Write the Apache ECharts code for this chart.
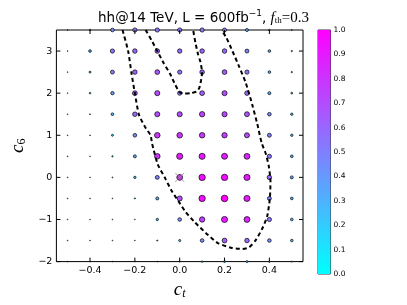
<!DOCTYPE html>
<html><head><meta charset="utf-8">
<script src="https://cdn.jsdelivr.net/npm/echarts@6/dist/echarts.min.js"></script>
<style>html,body{margin:0;padding:0;background:#fff}#c{width:407px;height:305px}</style>
</head><body><div id="c"></div>
<script>
// ---- data ----
const ctValues = [-0.5,-0.4,-0.3,-0.2,-0.1,0,0.1,0.2,0.3,0.4,0.5];
const c6Values = [3.5,3,2.5,2,1.5,1,0.5,0,-0.5,-1,-1.5,-2];
const row35 = [0.03,0.15,0.45,0.55,0.55,0.55,0.55,0.5,0.35,0.15,0.08];
const row30 = [0.04,0.3,0.55,0.6,0.62,0.58,0.6,0.6,0.5,0.3,0.12];
const row25 = [0.04,0.2,0.5,0.6,0.65,0.55,0.62,0.65,0.55,0.3,0.12];
const row20 = [0.03,0.15,0.4,0.65,0.7,0.55,0.65,0.7,0.6,0.35,0.18];
const row15 = [0.02,0.08,0.3,0.6,0.7,0.7,0.75,0.72,0.68,0.45,0.25];
const row10 = [0.02,0.05,0.2,0.45,0.8,0.8,0.78,0.75,0.7,0.5,0.25];
const row05 = [0.01,0.04,0.12,0.35,0.8,0.9,0.9,0.88,0.85,0.55,0.3];
const row00 = [0.01,0.03,0.08,0.25,0.5,0.85,0.95,0.95,0.9,0.6,0.35];
const rowM05 = [0.005,0.02,0.03,0.1,0.35,0.7,0.95,1.0,0.9,0.5,0.3];
const rowM10 = [0.0,0.01,0.02,0.06,0.25,0.45,0.75,0.9,0.85,0.55,0.3];
const rowM15 = [0.0,0.01,0.01,0.03,0.1,0.22,0.45,0.65,0.6,0.45,0.28];
const rowM20 = [0.0,0.0,0.0,0.01,0.04,0.1,0.15,0.2,0.2,0.15,0.1];
const fracRows = [row35,row30,row25,row20,row15,row10,row05,row00,rowM05,rowM10,rowM15,rowM20];
const contourOuter = [[-0.255,3.5],[-0.23,3.0],[-0.215,2.47],[-0.2,2.0],[-0.182,1.49],[-0.155,1.2],[-0.13,1.0],
  [-0.123,0.8],[-0.098,0.31],[-0.064,-0.03],[-0.036,-0.32],[-0.005,-0.57],[0.025,-0.81],[0.068,-1.07],
  [0.127,-1.37],[0.17,-1.56],[0.229,-1.67],[0.28,-1.7],[0.31,-1.66],[0.339,-1.49],[0.368,-1.22],
  [0.39,-0.93],[0.402,-0.51],[0.405,-0.1],[0.397,0.28],[0.383,0.58],[0.366,0.81],[0.346,1.27],
  [0.324,1.72],[0.295,2.24],[0.266,2.62],[0.236,2.99],[0.207,3.33],[0.186,3.5]];
const contourInner = [[-0.152,3.5],[-0.125,3.25],[-0.1,3.0],[-0.07,2.7],[-0.043,2.46],[-0.02,2.2],
  [0.0,2.02],[0.02,1.99],[0.05,2.0],[0.075,2.04],[0.087,2.12],[0.095,2.3],[0.1,2.49],[0.092,2.75],
  [0.082,2.92],[0.07,3.2],[0.06,3.5]];
const smPoint = [[0,0]];
const xTicks = [-0.4,-0.2,0,0.2,0.4];
const yTicks = [-2,-1,0,1,2,3];
const xRange = [-0.55,0.55];
const yRange = [-2,3.5];

const points = [];
c6Values.forEach((y,i)=>ctValues.forEach((x,j)=>points.push([x,y,fracRows[i][j]])));

const fmt = (d)=>v=>(v<0?'\u2212':'')+Math.abs(v).toFixed(d);
const lbl = {fontFamily:'DejaVu Sans',fontSize:9.5,color:'#000'};
const dash = {color:'#000',width:2,type:[4,3]};
const TL = 4;
const tickStyle = {stroke:'#000',lineWidth:1};

const chart = echarts.init(document.getElementById('c'),null,{renderer:'canvas'});
chart.setOption({
  animation:false,
  backgroundColor:'#fff',
  title:{left:'center',top:4,
    text:'{a|hh@14 TeV, L = 600fb}{sup|\u22121}{a|, }{f|f}{sub|th}{m|=0.3}',
    textStyle:{fontWeight:'normal',rich:{
      a:{fontFamily:'DejaVu Sans',fontWeight:'normal',fontSize:13.5,color:'#000'},
      sup:{fontFamily:'DejaVu Sans',fontWeight:'normal',fontSize:9,color:'#000',padding:[0,0,9,0]},
      f:{fontFamily:'Liberation Serif',fontWeight:'normal',fontStyle:'italic',fontSize:15,color:'#000'},
      sub:{fontFamily:'Liberation Serif',fontWeight:'normal',fontSize:9,color:'#000',padding:[5,0,0,0]},
      m:{fontFamily:'Liberation Serif',fontWeight:'normal',fontSize:15,color:'#000'}
    }}},
  grid:[
    {left:51,right:104,top:30,bottom:31,show:true,borderColor:'#000',borderWidth:1,backgroundColor:'transparent'},
    {left:318,width:12.5,top:30,bottom:31,show:true,borderColor:'#333',borderWidth:1}
  ],
  xAxis:[
    {gridIndex:0,type:'value',min:xRange[0],max:xRange[1],position:'bottom',
     name:'{c|c}{s|t}',nameLocation:'middle',nameGap:15,
     nameTextStyle:{rich:{c:{fontFamily:'Liberation Serif',fontStyle:'italic',fontSize:19,color:'#000'},
                          s:{fontFamily:'Liberation Serif',fontStyle:'italic',fontSize:12,color:'#000',padding:[8,0,0,0]}}},
     axisLine:{show:false},splitLine:{show:false},axisTick:{show:false},
     axisLabel:Object.assign({customValues:xTicks,formatter:fmt(1),margin:4},lbl)},
    {gridIndex:1,type:'category',data:['cbar'],show:false}
  ],
  yAxis:[
    {gridIndex:0,type:'value',min:yRange[0],max:yRange[1],position:'left',
     name:'{c|c}{s|6}',nameLocation:'middle',nameGap:21,nameRotate:90,
     nameTextStyle:{rich:{c:{fontFamily:'Liberation Serif',fontStyle:'italic',fontSize:19,color:'#000'},
                          s:{fontFamily:'Liberation Serif',fontSize:12,color:'#000',padding:[8,0,0,0]}}},
     axisLine:{show:false},splitLine:{show:false},axisTick:{show:false},
     axisLabel:Object.assign({customValues:yTicks,formatter:fmt(0),margin:4},lbl)},
    {gridIndex:1,type:'value',min:0,max:1,interval:0.1,position:'right',
     axisLine:{show:false},splitLine:{show:false},
     axisTick:{inside:false,length:2,lineStyle:{color:'#000'}},
     axisLabel:{formatter:v=>v.toFixed(1),margin:3,fontFamily:'DejaVu Sans',fontSize:7.5,color:'#000'}}
  ],
  visualMap:{type:'continuous',show:false,min:0,max:1,dimension:2,seriesIndex:0,
    inRange:{color:['#00ffff','#ff00ff']}},
  series:[
    {type:'scatter',xAxisIndex:0,yAxisIndex:0,data:points,clip:true,
     symbolSize:v=>Math.max(0.8,6.6*Math.pow(v[2],0.75)),
     emphasis:{disabled:true},
     itemStyle:{borderColor:'#000',borderWidth:0.7,opacity:1},z:2},
    {type:'line',xAxisIndex:0,yAxisIndex:0,data:contourOuter,showSymbol:false,symbol:'none',
     smooth:0.2,clip:true,lineStyle:dash,z:3},
    {type:'line',xAxisIndex:0,yAxisIndex:0,data:contourInner,showSymbol:false,symbol:'none',
     smooth:0.2,clip:true,lineStyle:dash,z:3},
    {type:'scatter',xAxisIndex:0,yAxisIndex:0,data:smPoint,symbol:'path://M0,0L10,10M10,0L0,10',
     symbolSize:9,itemStyle:{color:'none',borderColor:'#888',borderWidth:1},z:4},
    // x ticks (bottom & top), inward
    {type:'custom',xAxisIndex:0,yAxisIndex:0,clip:false,silent:true,z:5,
     data:xTicks.map(v=>[v,yRange[0]]),
     renderItem:(params,api)=>{
       const b=api.coord([api.value(0),yRange[0]]), t=api.coord([api.value(0),yRange[1]]);
       return {type:'group',children:[
         {type:'line',shape:{x1:b[0],y1:b[1],x2:b[0],y2:b[1]-TL},style:tickStyle},
         {type:'line',shape:{x1:t[0],y1:t[1],x2:t[0],y2:t[1]+TL},style:tickStyle}]};
     }},
    // y ticks (left & right), inward
    {type:'custom',xAxisIndex:0,yAxisIndex:0,clip:false,silent:true,z:5,
     data:yTicks.map(v=>[xRange[0],v]),
     renderItem:(params,api)=>{
       const l=api.coord([xRange[0],api.value(1)]), r=api.coord([xRange[1],api.value(1)]);
       return {type:'group',children:[
         {type:'line',shape:{x1:l[0],y1:l[1],x2:l[0]+TL,y2:l[1]},style:tickStyle},
         {type:'line',shape:{x1:r[0],y1:r[1],x2:r[0]-TL,y2:r[1]},style:tickStyle}]};
     }},
    {type:'bar',xAxisIndex:1,yAxisIndex:1,data:[1],barWidth:'100%',
     itemStyle:{color:new echarts.graphic.LinearGradient(0,1,0,0,[{offset:0,color:'#00ffff'},{offset:1,color:'#ff00ff'}])}}
  ]
});
</script></body></html>
